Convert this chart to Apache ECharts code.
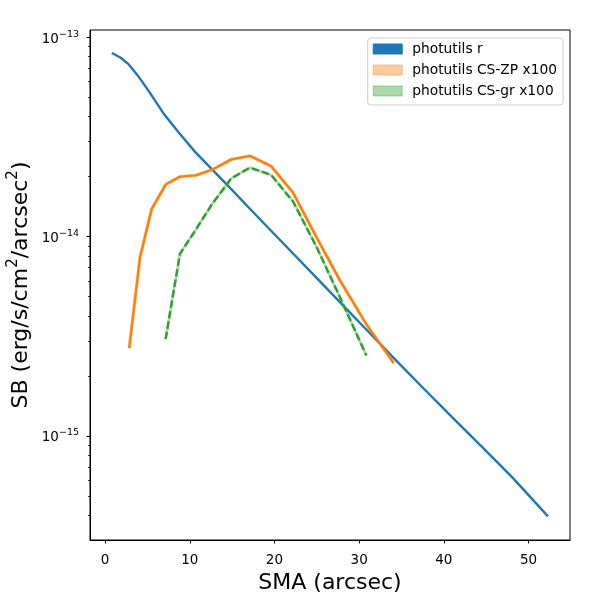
<!DOCTYPE html>
<html>
<head>
<meta charset="utf-8">
<title>SB profile</title>
<script src="https://cdn.jsdelivr.net/npm/echarts@6/dist/echarts.min.js"></script>
<style>
    html, body {margin: 0; padding: 0; background: #fff;}
    #main {width: 600px; height: 600px;}
</style>
</head>
<body>
<div id="main"></div>
<script>
// photutils r
var smaR = [0.8, 1.8, 2.8, 3.9, 5.3, 6.9, 8.65, 10.6, 12.6, 14.9, 17.1, 19.6, 22.2, 25.0, 27.7, 30.9, 34.1, 37.5, 41.0, 44.6, 48.2, 52.3];
var sbR = [8.34e-14, 7.92e-14, 7.31e-14, 6.40e-14, 5.26e-14, 4.15e-14, 3.35e-14, 2.67e-14, 2.18e-14, 1.73e-14, 1.38e-14, 1.07e-14,
    8.23e-15, 6.19e-15, 4.71e-15, 3.40e-15, 2.46e-15, 1.75e-15, 1.24e-15, 8.74e-16, 6.13e-16, 3.95e-16];
// photutils CS-ZP x100
var smaZP = [2.85, 4.13, 5.5, 7.15, 8.84, 10.7, 12.58, 14.9, 17.1, 19.6, 22.2, 24.96, 27.7, 30.86, 34.08];
var sbZP = [2.76e-15, 7.89e-15, 1.374e-14, 1.825e-14, 2.0e-14, 2.03e-14, 2.16e-14, 2.44e-14, 2.54e-14, 2.26e-14, 1.66e-14,
    9.94e-15, 6.07e-15, 3.63e-15, 2.32e-15];
// photutils CS-gr x100
var smaGR = [7.15, 8.84, 10.7, 12.58, 14.9, 17.1, 19.6, 22.2, 24.96, 27.7, 30.86];
var sbGR = [3.06e-15, 8.2e-15, 1.081e-14, 1.445e-14, 1.96e-14, 2.22e-14, 2.04e-14, 1.5e-14, 8.9e-15, 5.0e-15, 2.53e-15];

var xTicks = [0, 10, 20, 30, 40, 50];
var yTicks = [1e-15, 1e-14, 1e-13];
var yMinorTicks = [4e-16, 5e-16, 6e-16, 7e-16, 8e-16, 9e-16,
    2e-15, 3e-15, 4e-15, 5e-15, 6e-15, 7e-15, 8e-15, 9e-15,
    2e-14, 3e-14, 4e-14, 5e-14, 6e-14, 7e-14, 8e-14, 9e-14];

var FONT = 'DejaVu Sans';

function pairs(xs, ys) {
    var out = [];
    for (var i = 0; i < xs.length; i++) {
        out.push([xs[i], ys[i]]);
    }
    return out;
}

function powLabel(v) {
    var e = Math.round(Math.log10(v));
    return '{b|10}{s|' + (e < 0 ? '\u2212' : '') + Math.abs(e) + '}';
}

var chart = echarts.init(document.getElementById('main'));
var option = {
    animation: false,
    backgroundColor: '#fff',
    grid: {
        left: 90, right: 30, top: 30, bottom: 60,
        outerBoundsMode: 'none',
        containLabel: false,
        show: true, borderColor: '#000', borderWidth: 1
    },
    legend: {
        orient: 'vertical',
        right: 37, top: 38,
        icon: 'rect',
        itemWidth: 29, itemHeight: 10, itemGap: 5,
        padding: [3, 6, 6, 5],
        backgroundColor: 'rgba(255,255,255,0.8)',
        borderColor: '#ccc', borderWidth: 1, borderRadius: 3,
        selectedMode: false,
        textStyle: {fontFamily: FONT, fontSize: 13.8, color: '#000', lineHeight: 16, padding: [0, 0, 0, 5]},
        data: [
            {name: 'photutils r', itemStyle: {color: '#1f77b4', borderColor: '#1f77b4', borderWidth: 1}},
            {name: 'photutils CS-ZP x100', itemStyle: {color: 'rgba(255,127,14,0.4)', borderColor: 'rgba(255,127,14,0.4)', borderWidth: 1}},
            {name: 'photutils CS-gr x100', itemStyle: {color: 'rgba(44,160,44,0.4)', borderColor: 'rgba(44,160,44,0.4)', borderWidth: 1}}
        ]
    },
    xAxis: {
        type: 'value',
        min: -1.78, max: 54.9,
        name: 'SMA (arcsec)',
        nameLocation: 'middle', nameGap: 31,
        nameTextStyle: {fontFamily: FONT, fontSize: 22, color: '#000'},
        axisLine: {show: true, onZero: false, lineStyle: {color: '#000', width: 1}},
        axisTick: {show: true, length: 3.5, customValues: xTicks, lineStyle: {color: '#000'}},
        axisLabel: {fontFamily: FONT, fontSize: 13.5, color: '#000', margin: 13, customValues: xTicks},
        splitLine: {show: false}
    },
    yAxis: [{
        type: 'log', logBase: 10,
        min: 3.007e-16, max: 1.088e-13,
        position: 'left',
        name: 'SB (erg/s/cm{s|2}/arcsec{s|2})',
        nameLocation: 'middle', nameGap: 54, nameRotate: 90,
        nameMoveOverlap: false,
        nameTextStyle: {
            fontFamily: FONT, fontSize: 22, color: '#000', lineHeight: 30,
            rich: {s: {fontFamily: FONT, fontSize: 15, color: '#000', verticalAlign: 'top'}}
        },
        axisLine: {show: true, onZero: false, lineStyle: {color: '#000', width: 1}},
        axisTick: {show: true, length: 3.5, customValues: yTicks, lineStyle: {color: '#000'}},
        axisLabel: {
            margin: 11, customValues: yTicks, formatter: powLabel,
            padding: [4, 0, 0, 0],
            rich: {
                b: {fontFamily: FONT, fontSize: 13.5, color: '#000', lineHeight: 20},
                s: {fontFamily: FONT, fontSize: 9.5, color: '#000', verticalAlign: 'top'}
            }
        },
        splitLine: {show: false}
    }, {
        // minor ticks only
        type: 'log', logBase: 10,
        min: 3.007e-16, max: 1.088e-13,
        position: 'left',
        axisLine: {show: false, onZero: false},
        axisTick: {show: true, length: 2, customValues: yMinorTicks, lineStyle: {color: '#000', width: 0.8}},
        axisLabel: {show: false},
        splitLine: {show: false}
    }],
    series: [{
        name: 'photutils r',
        type: 'line',
        data: pairs(smaR, sbR),
        showSymbol: false,
        itemStyle: {color: '#1f77b4'},
        lineStyle: {color: '#1f77b4', width: 2.4},
        emphasis: {disabled: true}
    }, {
        name: 'CS-ZP band',
        type: 'line',
        data: pairs(smaZP, sbZP),
        showSymbol: false,
        lineStyle: {color: 'rgba(255,127,14,0.4)', width: 3.4},
        emphasis: {disabled: true}
    }, {
        name: 'photutils CS-ZP x100',
        type: 'line',
        data: pairs(smaZP, sbZP),
        showSymbol: false,
        itemStyle: {color: '#ff7f0e'},
        lineStyle: {color: '#ff7f0e', width: 2.4},
        emphasis: {disabled: true}
    }, {
        name: 'CS-gr band',
        type: 'line',
        data: pairs(smaGR, sbGR),
        showSymbol: false,
        lineStyle: {color: 'rgba(44,160,44,0.4)', width: 2.6},
        emphasis: {disabled: true}
    }, {
        name: 'photutils CS-gr x100',
        type: 'line',
        data: pairs(smaGR, sbGR),
        showSymbol: false,
        itemStyle: {color: '#2ca02c'},
        lineStyle: {color: '#2ca02c', width: 2.4, type: [7.4, 3.2]},
        emphasis: {disabled: true}
    }]
};
chart.setOption(option);
</script>
</body>
</html>
